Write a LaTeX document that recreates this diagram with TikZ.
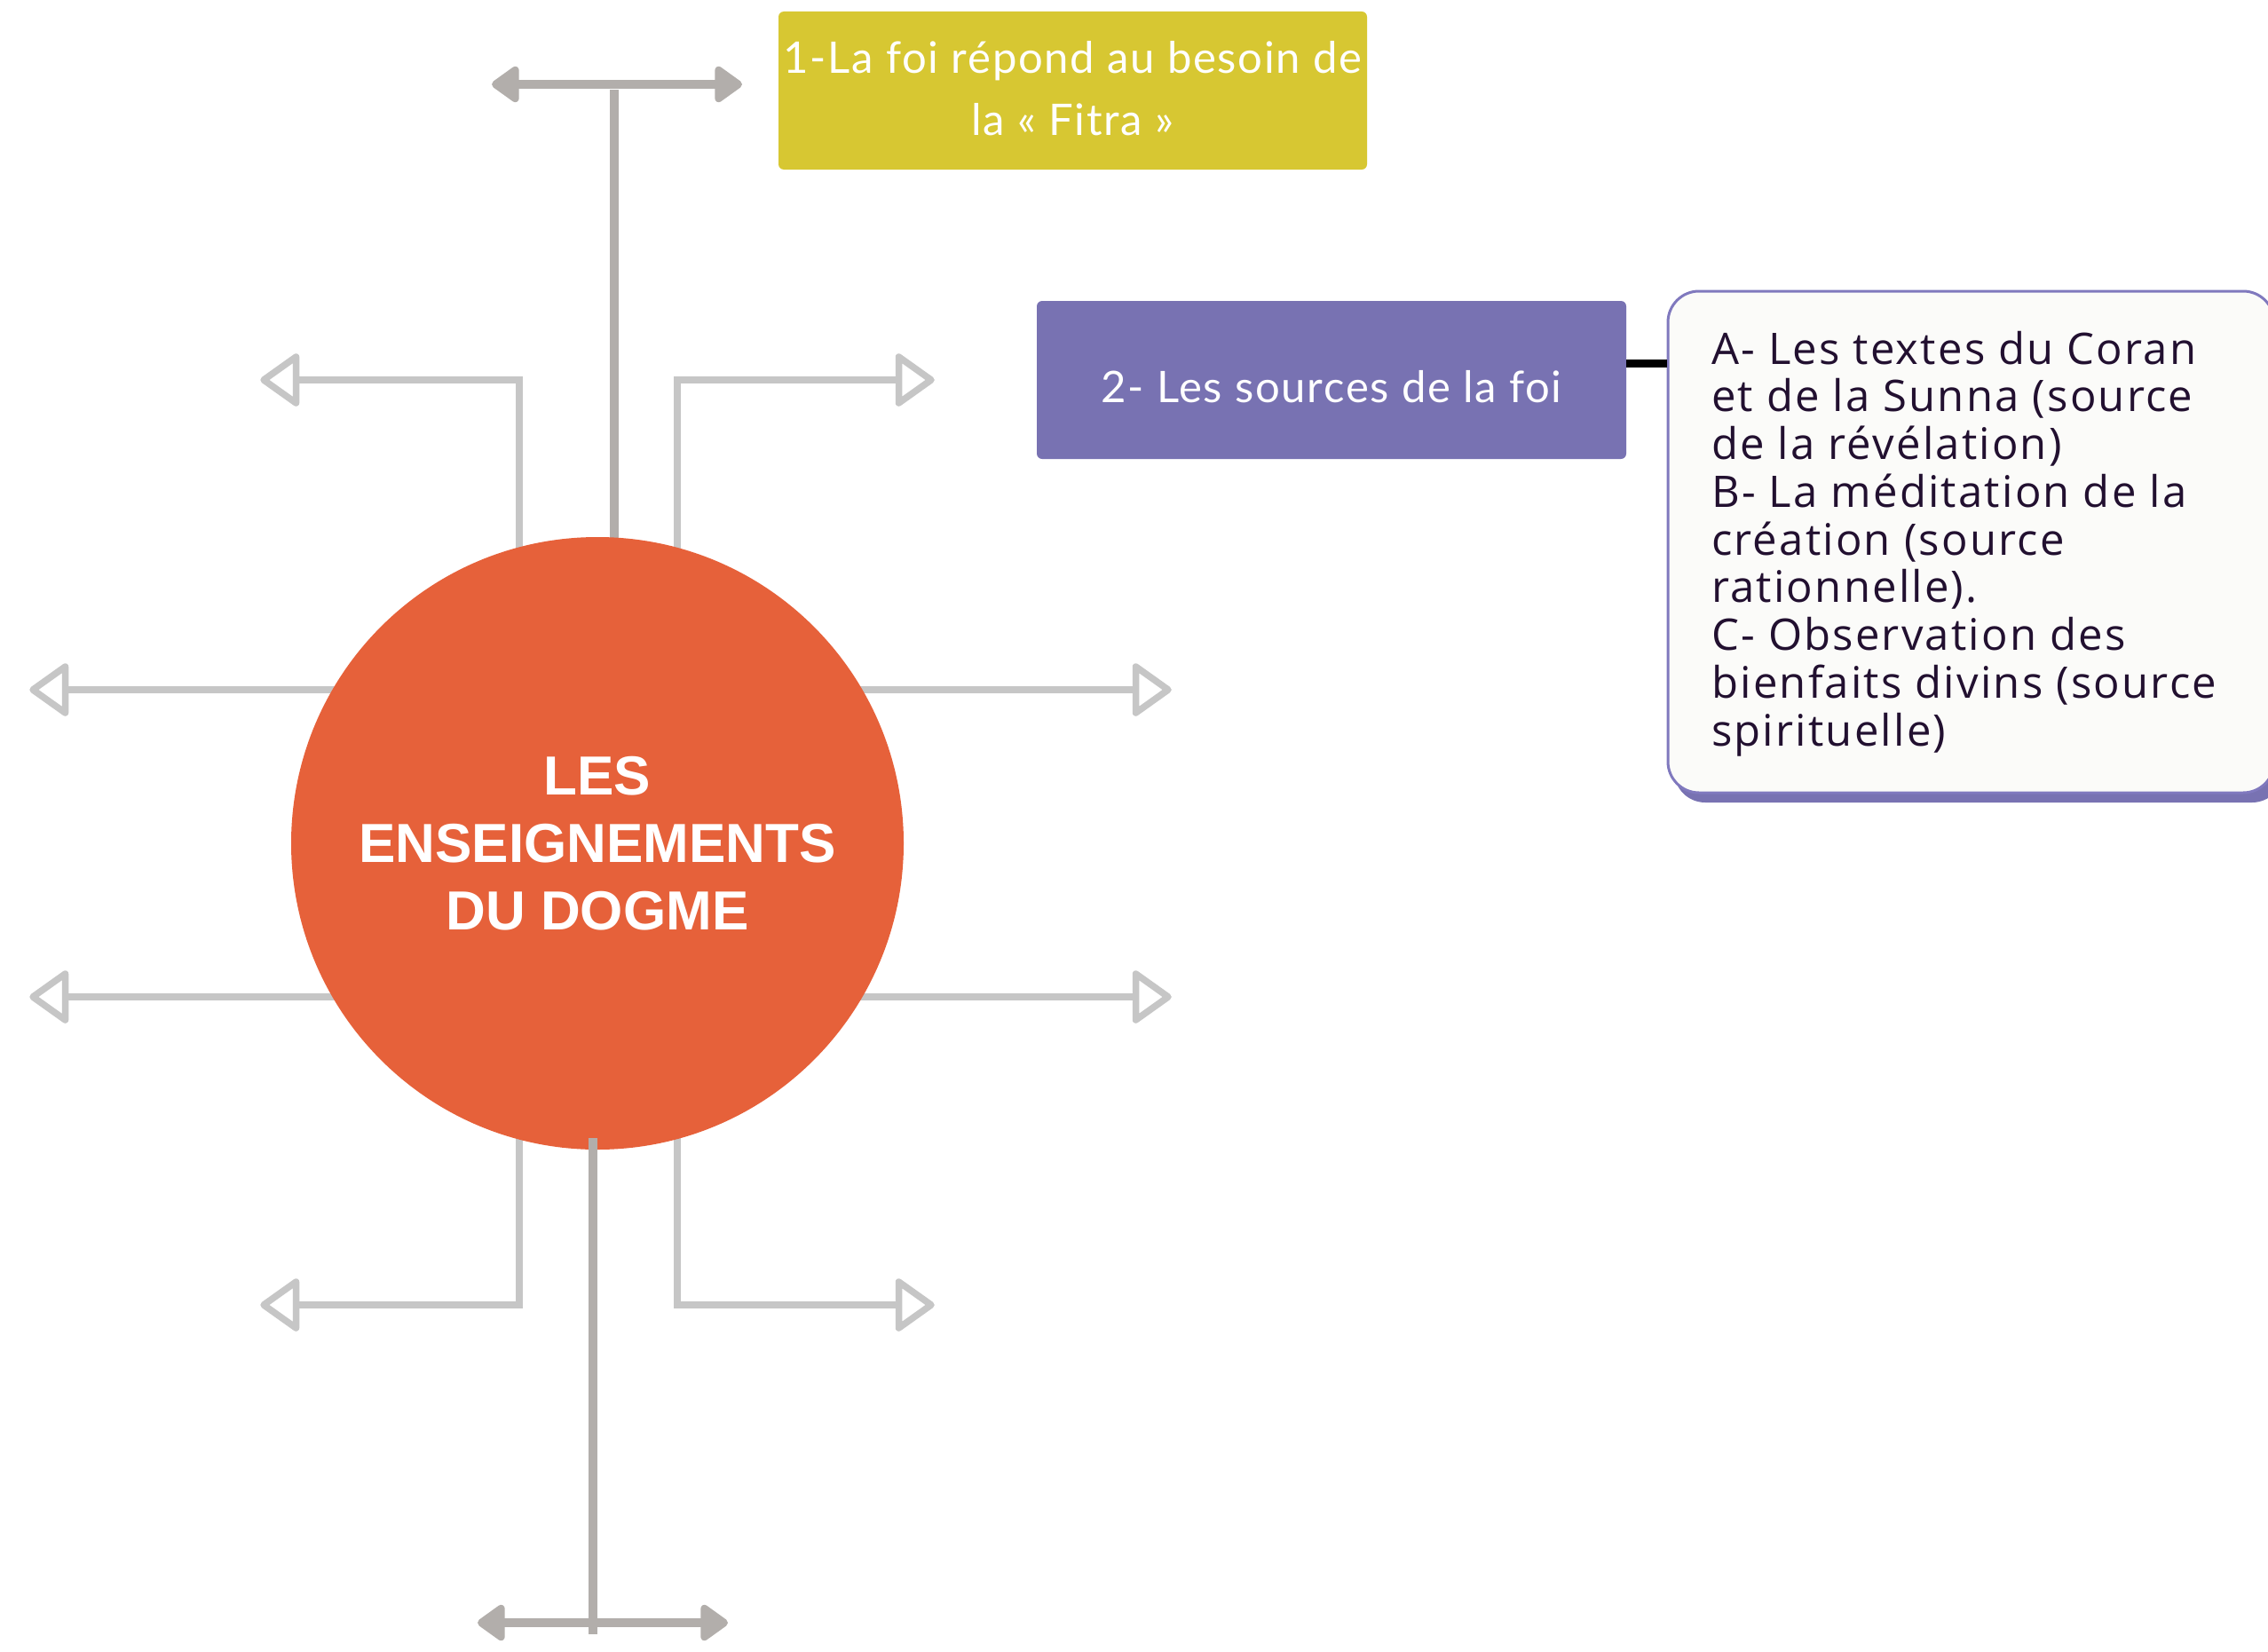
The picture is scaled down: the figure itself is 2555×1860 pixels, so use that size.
\documentclass[tikz,border=0pt]{standalone}
\usepackage{fontspec}
\usetikzlibrary{arrows.meta}
\setmainfont{Lato}
\newfontfamily\boxfont[LetterSpace=3.5]{Lato}
\newfontfamily\titlefont{Liberation Sans}
\newfontfamily\listfont[LetterSpace=4.5]{Open Sans}
\definecolor{cyellow}{HTML}{D7C732}
\definecolor{cpurple}{HTML}{7872B2}
\definecolor{corange}{HTML}{E6613A}
\definecolor{cdark}{HTML}{B2AEAB}
\definecolor{clight}{HTML}{C6C6C6}
\definecolor{ctext}{HTML}{221030}
\definecolor{cborder}{HTML}{8079BE}
\definecolor{cfill}{HTML}{FBFBF9}
\begin{document}
\begin{tikzpicture}[x=1pt,y=-1pt,
  darkline/.style={draw=cdark, line width=10pt},
  darkheads/.style={{Triangle[round,length=34pt,width=46pt]}-{Triangle[round,length=34pt,width=46pt]}},
  lightline/.style={draw=clight, line width=7.5pt},
  lighthead/.style={draw=clight, fill=white, line width=7.5pt, line join=round},
  circ/.style={circle, fill=corange, minimum size=690pt, inner sep=0pt, text=white,
    font=\titlefont\bfseries\fontsize{62}{76}\selectfont, align=center},
  colbox/.style={rectangle, rounded corners=6pt, inner sep=0pt},
  boxtext/.style={text=white, inner sep=0pt, anchor=base, font=\boxfont\fontsize{49}{70}\selectfont},
  listtext/.style={text=ctext, inner sep=0pt, anchor=base west, font=\listfont\fontsize{49}{53.75}\selectfont},
  conn/.style={draw=black, line width=9pt}
]
\useasboundingbox (0,0) rectangle (2555,1860);
\begin{scope}
\clip (0,0) rectangle (2555,1860);

% light outlined arrows (behind the circle)
\coordinate (ulA) at (585,700);  \coordinate (ulB) at (333.5,428);
\coordinate (urA) at (763,700);  \coordinate (urB) at (1012.5,428);
\coordinate (mlA) at (500,777);  \coordinate (mlB) at (73.5,777);
\coordinate (mrA) at (850,777);  \coordinate (mrB) at (1279.5,777);
\coordinate (llA) at (500,1123); \coordinate (llB) at (73.5,1123);
\coordinate (lrA) at (850,1123); \coordinate (lrB) at (1279.5,1123);
\coordinate (blA) at (585,1200); \coordinate (blB) at (333.5,1470);
\coordinate (brA) at (763,1200); \coordinate (brB) at (1012.5,1470);
\draw[lightline] (ulA) |- (ulB);
\draw[lightline] (urA) |- (urB);
\draw[lightline] (mlA) -- (mlB);
\draw[lightline] (mrA) -- (mrB);
\draw[lightline] (llA) -- (llB);
\draw[lightline] (lrA) -- (lrB);
\draw[lightline] (blA) |- (blB);
\draw[lightline] (brA) |- (brB);
% open triangular heads
\foreach \p in {ulB,mlB,llB,blB}{
  \draw[lighthead] (\p) ++(0,-26) -- ++(-36.5,26) -- ++(36.5,26) -- cycle;
}
\foreach \p in {urB,mrB,lrB,brB}{
  \draw[lighthead] (\p) ++(0,-26) -- ++(36.5,26) -- ++(-36.5,26) -- cycle;
}

% top T
\coordinate (tTop) at (692,101);
\coordinate (tIn) at (692,700);
\coordinate (tL) at (554,95);
\coordinate (tR) at (836,95);
\draw[darkline] (tTop) -- (tIn);
\draw[darkline, darkheads] (tL) -- (tR);

% central circle
\node[circ] (c) at (673,950) {LES\\ENSEIGNEMENTS\\DU DOGME};

% bottom T
\coordinate (bTop) at (668,1282);
\coordinate (bBot) at (668,1841);
\coordinate (bL) at (538,1828);
\coordinate (bR) at (820,1828);
\draw[darkline] (bTop) -- (bBot);
\draw[darkline, darkheads] (bL) -- (bR);

% yellow box
\node[colbox, fill=cyellow, minimum width=663pt, minimum height=178pt] (fitra) at (1208.5,102) {};
\node[boxtext, align=center] (fitraT) at (1208.5,152) {1-La foi répond au besoin de\\la « Fitra »};

% purple box
\node[colbox, fill=cpurple, minimum width=664pt, minimum height=178pt] (src) at (1500,428) {};
\node[boxtext] (srcT) at (1500,453) {2- Les sources de la foi};

% detail box with shadow
\fill[cpurple, rounded corners=35pt] (1886,339) rectangle (2572,904);
\node[rectangle, rounded corners=35pt, draw=cborder, line width=3pt, fill=cfill,
  minimum width=683pt, minimum height=565pt, inner sep=0pt] (det) at (2220.5,610.5) {};
\node[listtext] (detT) at (1928,410) {\vtop{\hbox{A- Les textes du Coran}
\hbox{et de la Sunna (source}
\hbox{de la révélation)}
\hbox{B- La méditation de la}
\hbox{création (source}
\hbox{rationnelle).}
\hbox{C- Observation des}
\hbox{bienfaits divins (source}
\hbox{spirituelle)}}};

% connector
\draw[conn] ([yshift=19pt]src.east) -- ([yshift=19pt]src.east -| det.west);
\end{scope}
\end{tikzpicture}
\end{document}
